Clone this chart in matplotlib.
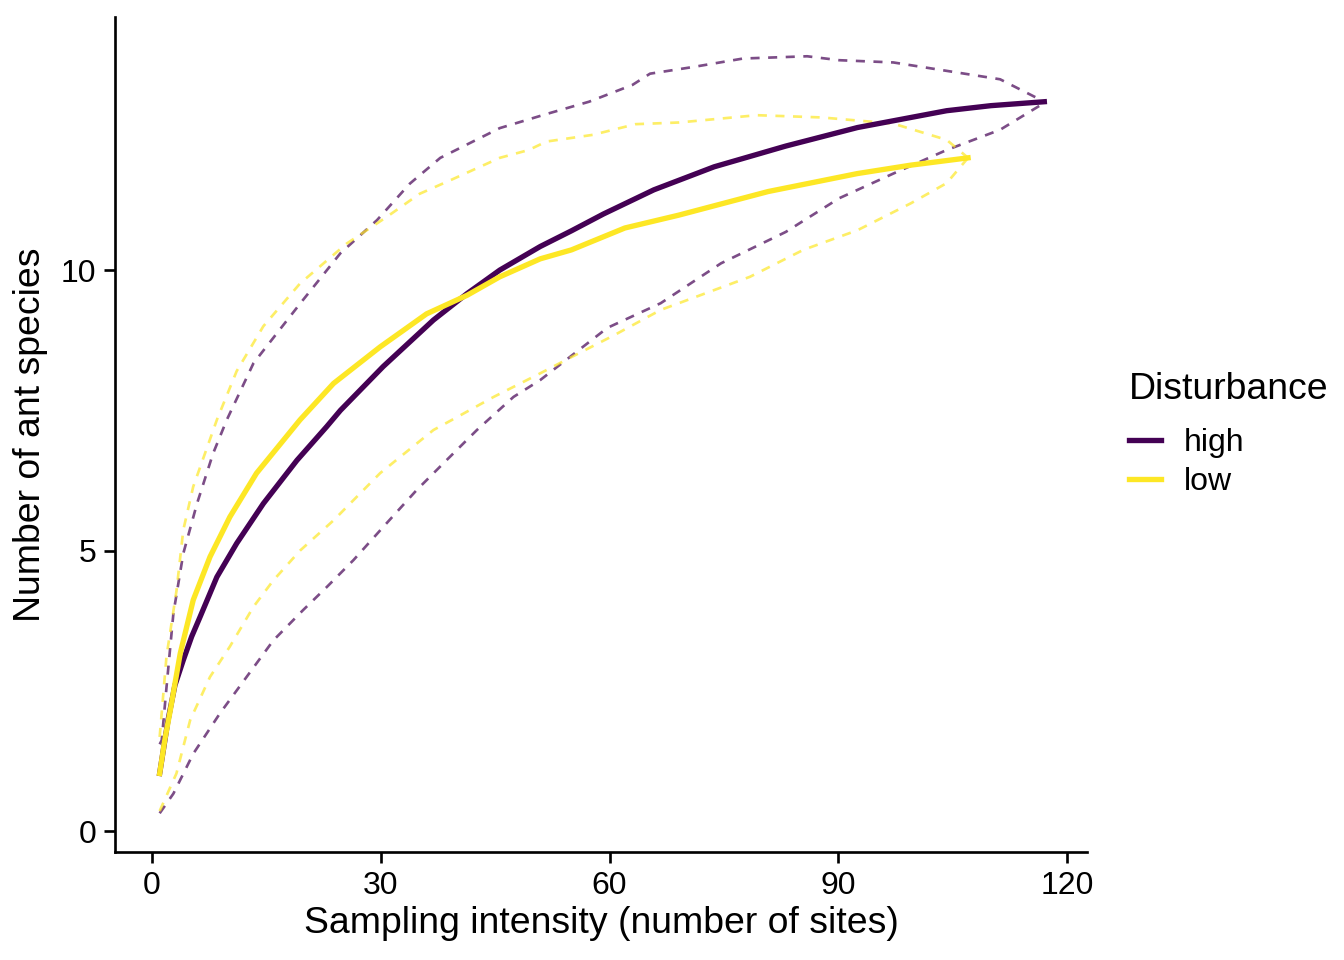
import matplotlib
matplotlib.use("Agg")
import matplotlib.pyplot as plt

plt.rcParams['font.family'] = ['Liberation Sans', 'DejaVu Sans']

# rarefaction curves
high_x = [1, 2.1, 3.0, 4.1, 5.2, 6.3, 8.5, 11.1, 14.6, 19.0, 22.9, 24.7, 30.3, 36.9, 41.3, 45.6, 50.9, 55, 59.2,
          65.8, 73.7, 83.1, 92.5, 104.2, 110, 117]
high_y = [1.03, 1.98, 2.6, 3.05, 3.47, 3.82, 4.53, 5.13, 5.84, 6.61, 7.21, 7.5, 8.28, 9.11, 9.58, 10.0, 10.42, 10.7, 11.0,
          11.43, 11.84, 12.21, 12.54, 12.84, 12.93, 13.0]
high_up_x = [1, 1.27, 1.9, 2.8, 4.1, 5.9, 8.0, 9.8, 13.3, 19.4, 24.7, 29.5, 33.8, 37.8, 45.6, 51.7, 57.3,
             63, 65.3, 71, 77.5, 85.9, 90.1, 97.2, 104.2, 111.2, 117]
high_up_y = [1.55, 1.62, 2.57, 3.88, 4.95, 5.84, 6.73, 7.33, 8.34, 9.4, 10.3, 10.89, 11.54, 12.0, 12.53, 12.78, 13.0,
             13.3, 13.5, 13.62, 13.77, 13.81, 13.74, 13.7, 13.55, 13.4, 13.0]
high_lo_x = [1, 2.8, 5.4, 8.9, 12.4, 15.9, 19.8, 22.9, 26.4, 30.3, 34.7, 38.6, 42.6, 47.4, 50.9, 59.7, 66.7,
             74.6, 83.1, 90.1, 97.2, 104.2, 111.2, 117]
high_lo_y = [0.32, 0.67, 1.38, 2.1, 2.75, 3.4, 3.94, 4.35, 4.83, 5.42, 6.08, 6.61, 7.15, 7.74, 8.04, 8.97, 9.41,
             10.12, 10.68, 11.28, 11.72, 12.14, 12.5, 12.98]

low_x = [1, 1.7, 2.4, 3.7, 5.4, 7.6, 10.2, 13.7, 19.4, 23.8, 29.9, 36.0, 41.3, 45.6, 50.9, 55, 62, 69.1,
         80.8, 92.5, 99.5, 107]
low_y = [1.03, 1.65, 2.16, 3.17, 4.12, 4.89, 5.6, 6.38, 7.33, 7.98, 8.63, 9.22, 9.55, 9.88, 10.2, 10.36, 10.75, 10.98,
         11.40, 11.72, 11.87, 12.0]
low_up_x = [1, 1.9, 3.2, 4.1, 5.4, 8.5, 11.1, 14.6, 19.4, 25.5, 30.8, 35.1, 39.1, 45.6, 49.4, 51.7, 57.8,
            63.4, 69.1, 79.3, 87.8, 97.2, 104.2, 107]
low_up_y = [1.68, 3.12, 4.28, 5.37, 6.14, 7.33, 8.2, 9.0, 9.76, 10.47, 10.95, 11.36, 11.6, 12.0, 12.14, 12.29, 12.41,
            12.6, 12.63, 12.76, 12.72, 12.61, 12.32, 12.0]
low_lo_x = [1, 3.2, 5.0, 7.6, 10.2, 13.3, 15.9, 19.4, 23.8, 29.9, 36.9, 40.0, 44.8, 50.9, 55, 60.6, 66.7,
            78.4, 85.4, 92.5, 99.5, 104.2, 107]
low_lo_y = [0.36, 1.03, 1.98, 2.75, 3.29, 4.0, 4.47, 5.0, 5.54, 6.38, 7.15, 7.38, 7.74, 8.16, 8.45, 8.84, 9.29,
            9.88, 10.36, 10.71, 11.19, 11.55, 12.0]

c_high = '#440154'
c_low = '#FDE725'

fig = plt.figure(figsize=(7, 5), dpi=192)
ax = fig.add_axes([0.0856, 0.1125, 0.7232, 0.8698])

dash = (0, (3.4, 3.2))
ax.plot(high_up_x, high_up_y, color=c_high, lw=1.0, ls=dash, alpha=0.7)
ax.plot(high_lo_x, high_lo_y, color=c_high, lw=1.0, ls=dash, alpha=0.7)
ax.plot(low_up_x, low_up_y, color=c_low, lw=1.0, ls=dash, alpha=0.7)
ax.plot(low_lo_x, low_lo_y, color=c_low, lw=1.0, ls=dash, alpha=0.7)
ax.plot(high_x, high_y, color=c_high, lw=2.0, label='high')
ax.plot(low_x, low_y, color=c_low, lw=2.0, label='low')

ax.set_xlim(-4.85, 122.6)
ax.set_ylim(-0.37, 14.51)
ax.set_xticks([0, 30, 60, 90, 120])
ax.set_yticks([0, 5, 10])
for s in ['top', 'right']:
    ax.spines[s].set_visible(False)
for s in ['left', 'bottom']:
    ax.spines[s].set_linewidth(1.0)
ax.tick_params(length=4, width=1.0, labelsize=12, colors='black', pad=3)

ax.set_xlabel('Sampling intensity (number of sites)', fontsize=14, labelpad=2)
ax.set_ylabel('Number of ant species', fontsize=14, labelpad=5)

leg = ax.legend(title='Disturbance', loc='center left', bbox_to_anchor=(1.03, 0.5),
                frameon=False, fontsize=12, title_fontsize=14, handlelength=1.0,
                handletextpad=0.7, labelspacing=0.3, alignment='left', borderaxespad=0)
leg._legend_box.sep = 8
fig.savefig('out.png')
